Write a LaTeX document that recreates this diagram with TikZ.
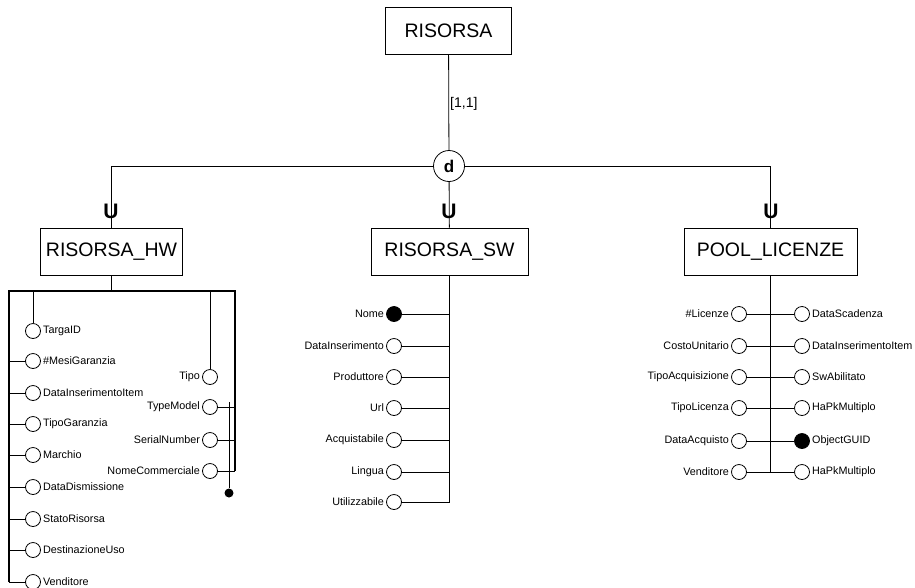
\documentclass[tikz,border=0pt]{standalone}
\usepackage{fontspec}
\setmainfont{Liberation Sans}
\begin{document}
\begin{tikzpicture}[x=1pt,y=-1pt,
  entity/.style={draw,line width=0.8pt,minimum height=47pt,inner sep=0pt,
                 font=\fontsize{19.5}{22}\selectfont},
  attr/.style={circle,draw,line width=0.8pt,minimum size=15pt,inner sep=0pt,fill=white},
  keyattr/.style={attr,fill=black},
  lab/.style={font=\fontsize{10.8}{12}\selectfont,inner sep=2pt},
  thin/.style={line width=0.8pt},
  trunk/.style={line width=1.8pt,line join=miter},
  subset/.style={font=\fontsize{21}{23}\selectfont\bfseries,inner sep=0pt}
]
\useasboundingbox (0,0) rectangle (915,587);

% entities
\node[entity,minimum width=126pt] (risorsa) at (448.5,31) {RISORSA};
\node[entity,minimum width=142pt] (hw) at (111.5,251.5) {RISORSA\_HW};
\node[entity,minimum width=157pt] (sw) at (449.5,251.5) {RISORSA\_SW};
\node[entity,minimum width=173pt] (pool) at (770.5,251.5) {POOL\_LICENZE};

% generalization
\node[circle,draw,thin,minimum size=31pt,inner sep=0pt,
      font=\fontsize{17}{17}\selectfont\bfseries] (d) at (449,166) {d};
\draw[thin] (risorsa) -- (d);
\node[font=\fontsize{14}{16}\selectfont,inner sep=0pt,anchor=west] (card) at (450,104) {[1,1]};
\draw[thin] (d) -- (sw);
\draw[thin] (d) -- (d -| hw.north) -- (hw);
\draw[thin] (d) -- (d -| pool.north) -- (pool);
\node[subset] (uhw) at (111,211.5) {U};
\node[subset] (usw) at (449,211.5) {U};
\node[subset] (upool) at (771,211.5) {U};

% RISORSA_HW attributes
\coordinate (hwl) at (9,291);
\coordinate (hwr) at (235,291);
\foreach \n/\y/\t in {1/331/TargaID, 2/361/\#MesiGaranzia, 3/393/DataInserimentoItem,
    4/424/TipoGaranzia, 5/455/Marchio, 6/487/DataDismissione, 7/519/StatoRisorsa,
    8/550/DestinazioneUso, 9/582/Venditore}
  \node[attr,label={[lab]right:\t}] (hl\n) at (33,\y) {};
\foreach \n/\y/\t in {1/377/Tipo, 2/407/TypeModel, 3/440/SerialNumber, 4/471/NomeCommerciale}
  \node[attr,label={[lab]left:\t}] (hr\n) at (210,\y) {};
\draw[trunk] (hw.south) -- (hw.south |- hwl);
\draw[trunk] (hwl |- hl9) -- (hwl) -- (hwr) -- (hwr |- hr4);
\draw[thin] (hl1) -- (hl1 |- hwl);
\draw[thin] (hr1) -- (hr1 |- hwl);
\foreach \n in {2,...,9}
  \draw[thin] (hl\n) -- (hl\n -| hwl);
\foreach \n in {2,3,4}
  \draw[thin] (hr\n) -- (hr\n -| hwr);
\node[circle,fill=black,minimum size=9pt,inner sep=0pt] (hwid) at (229,493) {};
\coordinate (hwidtop) at (229,402);
\draw[thin] (hwidtop) -- (hwid);

% RISORSA_SW attributes
\foreach \n/\y/\t in {2/346/DataInserimento, 3/377/Produttore, 4/408/Url,
    5/440/Acquistabile, 6/472/Lingua, 7/502/Utilizzabile}
  \node[attr,label={[lab]left:\t}] (s\n) at (394,\y) {};
\node[keyattr,label={[lab]left:Nome}] (s1) at (394,314) {};
\draw[trunk] (sw.south) -- (sw.south |- s7);
\foreach \n in {1,...,7}
  \draw[thin] (s\n) -- (s\n -| sw.south);

% POOL_LICENZE attributes
\foreach \n/\y/\t in {1/314/\#Licenze, 2/346/CostoUnitario, 3/377/TipoAcquisizione,
    4/408/TipoLicenza, 5/441/DataAcquisto, 6/472/Venditore}
  \node[attr,label={[lab]left:\t}] (pl\n) at (739,\y) {};
\foreach \n/\y/\t in {1/314/DataScadenza, 2/346/DataInserimentoItem, 3/377/SwAbilitato,
    4/408/HaPkMultiplo, 6/472/HaPkMultiplo}
  \node[attr,label={[lab]right:\t}] (pr\n) at (802,\y) {};
\node[keyattr,label={[lab]right:ObjectGUID}] (pr5) at (802,441) {};
\draw[trunk] (pool.south) -- (pool.south |- pl6);
\foreach \n in {1,...,6}
  \draw[thin] (pl\n) -- (pr\n);
\end{tikzpicture}
\end{document}
